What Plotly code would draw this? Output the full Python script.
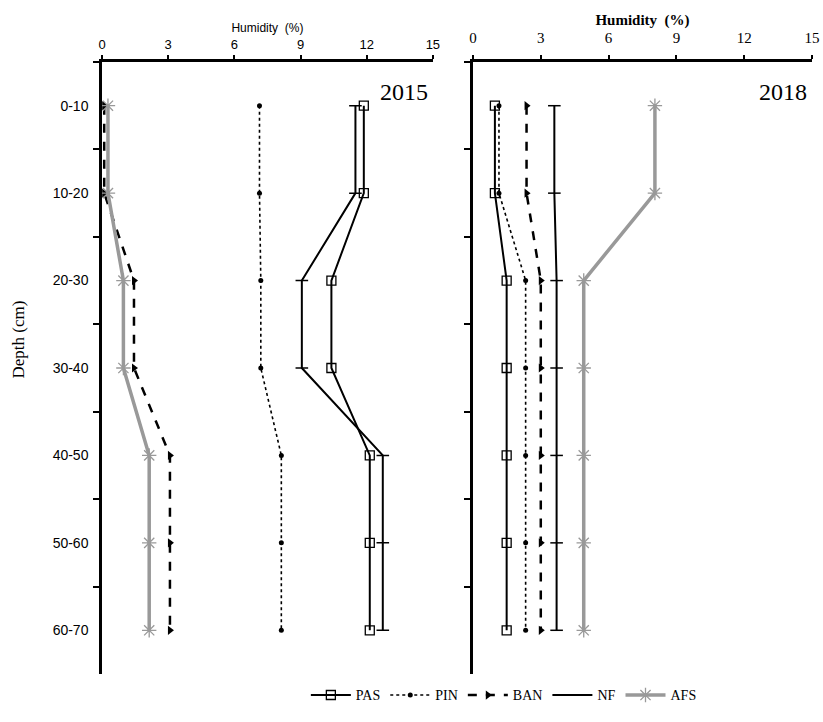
import plotly.graph_objects as go

depths = ["0-10", "10-20", "20-30", "30-40", "40-50", "50-60", "60-70"]
x_ticks = [0, 3, 6, 9, 12, 15]

# 2015 humidity (%)
pas_2015 = [11.87, 11.87, 10.4, 10.4, 12.14, 12.14, 12.14]
pin_2015 = [7.14, 7.14, 7.2, 7.2, 8.13, 8.13, 8.13]
ban_2015 = [0.1, 0.1, 1.45, 1.45, 3.08, 3.08, 3.08]
nf_2015 = [11.49, 11.49, 9.06, 9.06, 12.73, 12.73, 12.73]
afs_2015 = [0.27, 0.27, 0.97, 0.97, 2.14, 2.14, 2.14]

# 2018 humidity (%)
pas_2018 = [0.97, 0.97, 1.49, 1.49, 1.49, 1.49, 1.49]
pin_2018 = [1.15, 1.15, 2.33, 2.33, 2.33, 2.33, 2.33]
ban_2018 = [2.37, 2.37, 3.0, 3.0, 3.0, 3.0, 3.0]
nf_2018 = [3.6, 3.6, 3.7, 3.7, 3.7, 3.7, 3.7]
afs_2018 = [8.05, 8.05, 4.9, 4.9, 4.9, 4.9, 4.9]

series_names = ["PAS", "PIN", "BAN", "NF", "AFS"]

styles = {
    "PAS": dict(line=dict(color="black", width=2, dash="solid"),
                marker=dict(symbol="square-open", size=9, color="black", line=dict(width=1.3))),
    "PIN": dict(line=dict(color="black", width=1.6, dash="dot"),
                marker=dict(symbol="circle", size=5, color="black")),
    "BAN": dict(line=dict(color="black", width=2.5, dash="dash"),
                marker=dict(symbol="triangle-right", size=8, color="black")),
    "NF": dict(line=dict(color="black", width=2, dash="solid"),
               marker=dict(symbol="line-ew", size=9, color="black", line=dict(width=1.5, color="black"))),
    "AFS": dict(line=dict(color="#999999", width=3.5, dash="solid"),
                marker=dict(symbol="asterisk-open", size=12, color="#999999", line=dict(width=1.3, color="#999999"))),
}

data_2015 = [pas_2015, pin_2015, ban_2015, nf_2015, afs_2015]
data_2018 = [pas_2018, pin_2018, ban_2018, nf_2018, afs_2018]

fig = go.Figure()
for name, vals in zip(series_names, data_2015):
    fig.add_trace(go.Scatter(x=vals, y=depths, mode="lines+markers", name=name,
                             xaxis="x", yaxis="y", showlegend=True, **styles[name]))
for name, vals in zip(series_names, data_2018):
    fig.add_trace(go.Scatter(x=vals, y=depths, mode="lines+markers", name=name,
                             xaxis="x2", yaxis="y2", showlegend=False, **styles[name]))

serif = "Liberation Serif"
sans = "Liberation Sans"

common_x = dict(range=[0, 15], tickvals=x_ticks, side="top", showgrid=False, zeroline=False,
                showline=True, linecolor="black", linewidth=2.5, ticks="outside",
                ticklen=4, tickwidth=2, tickcolor="black", automargin=False)
common_y = dict(type="category", categoryorder="array", categoryarray=depths,
                range=[6.5, -0.5], showgrid=False, zeroline=False, showline=True,
                linecolor="black", linewidth=2.5, ticks="outside", tickson="boundaries",
                ticklen=6, tickwidth=2, tickcolor="black", automargin=False)

fig.update_layout(
    width=823, height=722,
    margin=dict(l=102, r=11, t=62, b=46),
    paper_bgcolor="white", plot_bgcolor="white",
    xaxis=dict(domain=[0, 0.466], anchor="y",
               tickfont=dict(family=sans, size=13, color="black"),
               ticklabelstandoff=1,
               title=dict(text="Humidity  (%)", font=dict(family=sans, size=12, color="black"), standoff=2),
               **common_x),
    xaxis2=dict(domain=[0.5225, 1], anchor="y2",
                tickfont=dict(family=serif, size=15, color="black"),
                ticklabelstandoff=6,
                title=dict(text="<b>Humidity  (%)</b>", font=dict(family=serif, size=15, color="black"), standoff=2),
                **common_x),
    yaxis=dict(domain=[0, 1], anchor="x",
               tickfont=dict(family=sans, size=14, color="black"),
               ticklabelstandoff=8,
               **common_y),
    yaxis2=dict(domain=[0, 1], anchor="x2", showticklabels=False, **common_y),
    legend=dict(orientation="h", x=0.566, xanchor="center", y=-0.035, yanchor="middle",
                font=dict(family=serif, size=14, color="black"), itemwidth=40,
                tracegroupgap=0, bgcolor="rgba(0,0,0,0)"),
    annotations=[
        dict(text="Depth (cm)", xref="paper", yref="paper", x=-0.118, y=0.547,
             xanchor="center", yanchor="middle", textangle=-90, showarrow=False,
             font=dict(family=serif, size=17, color="black")),
        dict(text="2015", xref="x domain", yref="y domain", x=0.99, y=0.975,
             xanchor="right", yanchor="top", showarrow=False,
             font=dict(family=serif, size=24, color="black")),
        dict(text="2018", xref="x2 domain", yref="y2 domain", x=0.99, y=0.975,
             xanchor="right", yanchor="top", showarrow=False,
             font=dict(family=serif, size=24, color="black")),
    ],
)

fig.write_html(
    "out.html",
    config={"displayModeBar": False},
    post_script="document.body.style.margin='0';document.body.style.overflow='hidden';",
)
